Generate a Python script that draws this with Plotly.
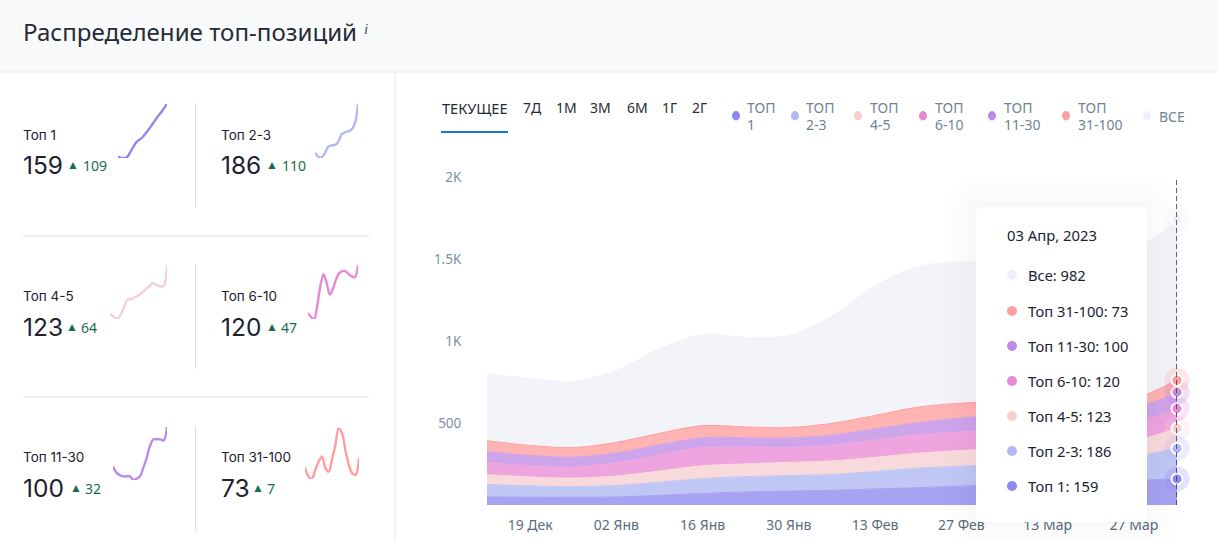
import numpy as np
import plotly.graph_objects as go

W, H = 1217, 542

weeks = ["2022-12-12", "2022-12-19", "2022-12-26", "2023-01-02", "2023-01-09", "2023-01-16",
         "2023-01-23", "2023-01-30", "2023-02-06", "2023-02-13", "2023-02-20", "2023-02-27",
         "2023-03-06", "2023-03-13", "2023-03-20", "2023-03-27", "2023-04-03"]

top_1 = [50, 47, 47, 49, 59, 70, 80, 85, 90, 98, 106, 115, 124, 133, 141, 150, 159]
top_2_3 = [76, 69, 65, 70, 80, 91, 93, 94, 96, 106, 119, 122, 124, 126, 132, 146, 186]
top_4_5 = [59, 55, 52, 58, 68, 78, 78, 81, 83, 87, 91, 95, 99, 97, 95, 95, 123]
top_6_10 = [73, 69, 67, 81, 100, 111, 102, 91, 97, 106, 112, 114, 114, 111, 109, 108, 120]
top_11_30 = [68, 63, 61, 60, 60, 60, 57, 58, 60, 67, 75, 85, 90, 90, 90, 89, 100]
top_31_100 = [66, 60, 58, 64, 70, 74, 66, 63, 72, 82, 94, 90, 78, 68, 62, 61, 73]
top_all = [410, 408, 405, 438, 516, 555, 547, 561, 656, 791, 857, 863, 861, 875, 901, 906, 982]

names = ["Топ 1", "Топ 2-3", "Топ 4-5", "Топ 6-10", "Топ 11-30", "Топ 31-100", "Все"]
series = [top_1, top_2_3, top_4_5, top_6_10, top_11_30, top_31_100, top_all]

x_tick_dates = ["2022-12-19", "2023-01-02", "2023-01-16", "2023-01-30", "2023-02-13", "2023-02-27",
                "2023-03-13", "2023-03-27"]
x_tick_text = ["19 Дек", "02 Янв", "16 Янв", "30 Янв", "13 Фев", "27 Фев", "13 Мар", "27 Мар"]
y_tick_vals = [500, 1000, 1500, 2000]
y_tick_text = ["500", "1K", "1.5K", "2K"]

tabs = ["ТЕКУЩЕЕ", "7Д", "1М", "3М", "6М", "1Г", "2Г"]
legend_top = ["ТОП", "ТОП", "ТОП", "ТОП", "ТОП", "ТОП", "ВСЕ"]
legend_bottom = ["1", "2-3", "4-5", "6-10", "11-30", "31-100", ""]

# цвета
line_colors = ["#8F88EE", "#B2B8F2", "#F6CFD2", "#E78AD6", "#BC8BE6", "#FF9E9E", "#EEF0F8"]
fill_colors = ["#A8A2F2", "#C1C7F5", "#F8D9DC", "#EEA5DF", "#CEA5EA", "#FFB3B3", "#F3F4F9"]
edge_colors = ["#A8A2F2", "#C1C7F5", "#F8D9DC", "#EEA5DF", "#CEA5EA", "#FF9E9E", "#F3F4F9"]
TEXT = "#1C2230"
GREY = "#6F8495"
GREEN = "#1B6B50"
RULE = "#DCDCE8"


def px(x):
    return x / W


def py(y):
    return 1 - y / H


fig = go.Figure()

# основной график со стеком
for name, vals, lc, fc in zip(names, series, edge_colors, fill_colors):
    fig.add_trace(go.Scatter(
        x=weeks, y=vals, name=name, stackgroup="main", mode="lines",
        line=dict(color=lc, width=1, shape="spline", smoothing=0.9),
        fillcolor=fc, hoverinfo="skip", showlegend=False,
    ))

# кружки на последней дате
cum = np.cumsum([s[-1] for s in series])
for total, lc in zip(cum, line_colors):
    fig.add_trace(go.Scatter(
        x=[weeks[-1]], y=[total], mode="markers", showlegend=False, hoverinfo="skip", cliponaxis=False,
        marker=dict(size=25, color=lc, opacity=0.25),
    ))
    fig.add_trace(go.Scatter(
        x=[weeks[-1]], y=[total], mode="markers", showlegend=False, hoverinfo="skip", cliponaxis=False,
        marker=dict(size=11, color=lc, line=dict(color="white", width=2)),
    ))

# маленькие графики в карточках
cards = [(118, 167, 104, 158), (315, 358, 104, 158),
         (110, 167, 265, 319), (308, 358, 265, 319),
         (113, 167, 427, 480), (305, 359, 428, 479)]
value_x = [(23, 73, 83), (221, 272, 282), (23, 72, 81), (221, 272, 281), (23, 76, 85), (221, 258, 267)]
card_y = [(135, 165), (135, 165), (296, 327), (296, 327), (457, 488), (457, 488)]

axes = {}
for i, (x0, x1, y0, y1) in enumerate(cards):
    n = i + 2
    vals = series[i]
    fig.add_trace(go.Scatter(
        x=weeks, y=vals, mode="lines", xaxis=f"x{n}", yaxis=f"y{n}", showlegend=False, hoverinfo="skip",
        cliponaxis=False, line=dict(color=line_colors[i], width=2.4, shape="spline", smoothing=1.0),
    ))
    axes[f"xaxis{n}"] = dict(domain=[px(x0), px(x1)], visible=False, range=[weeks[0], weeks[-1]], anchor=f"y{n}")
    axes[f"yaxis{n}"] = dict(domain=[py(y1), py(y0)], visible=False, range=[min(vals), max(vals)], anchor=f"x{n}")

shapes = [
    dict(type="rect", xref="paper", yref="paper", x0=0, x1=1, y0=py(72), y1=1, layer="below",
         fillcolor="#F9FAFC", line_width=0),
    dict(type="line", xref="paper", yref="paper", x0=0, x1=1, y0=py(72), y1=py(72), layer="below",
         line=dict(color="#F0F1F6", width=1.5)),
    dict(type="line", xref="paper", yref="paper", x0=px(395), x1=px(395), y0=py(72), y1=0, layer="below",
         line=dict(color="#F0F1F6", width=1.5)),
    dict(type="rect", xref="paper", yref="paper", x0=px(441), x1=px(508), y0=py(133), y1=py(131), layer="below",
         fillcolor="#1976D2", line_width=0),
]
for y in [236, 397]:
    shapes.append(dict(type="line", xref="paper", yref="paper", x0=px(23), x1=px(369), y0=py(y), y1=py(y),
                       layer="below", line=dict(color=RULE, width=1)))
for y0, y1 in [(103, 207), (264, 369), (426, 531)]:
    shapes.append(dict(type="line", xref="paper", yref="paper", x0=px(195.5), x1=px(195.5), y0=py(y0), y1=py(y1),
                       layer="below", line=dict(color=RULE, width=1)))

# пунктир поверх кружков
shapes.append(dict(type="line", xref="x", yref="y", x0=weeks[-1], x1=weeks[-1], y0=0, y1=2000, layer="above",
                   line=dict(color="#2F4058", width=1.6, dash="5px,3px")))


def rounded(x0, y0, x1, y1, r):
    return (f"M{px(x0 + r)},{py(y0)} L{px(x1 - r)},{py(y0)} Q{px(x1)},{py(y0)} {px(x1)},{py(y0 + r)} "
            f"L{px(x1)},{py(y1 - r)} Q{px(x1)},{py(y1)} {px(x1 - r)},{py(y1)} "
            f"L{px(x0 + r)},{py(y1)} Q{px(x0)},{py(y1)} {px(x0)},{py(y1 - r)} "
            f"L{px(x0)},{py(y0 + r)} Q{px(x0)},{py(y0)} {px(x0 + r)},{py(y0)} Z")


# тень и карточка подсказки
for grow in [32, 26, 20, 15, 10, 6, 3]:
    shapes.append(dict(type="path", xref="paper", yref="paper", layer="above", line_width=0,
                       fillcolor="rgba(0,0,0,0.005)",
                       path=rounded(976 - grow, 207 - grow, 1147 + grow, 522 + grow, 6 + grow)))
shapes.append(dict(type="path", xref="paper", yref="paper", layer="above", line_width=0, fillcolor="white",
                   path=rounded(976, 207, 1147, 522, 6)))

annotations = []


def text(x, y, s, size, color=TEXT, family="Noto Sans", anchor="left"):
    annotations.append(dict(x=px(x), y=py(y), xref="paper", yref="paper", text=s, showarrow=False, xanchor=anchor,
                            yanchor="middle", font=dict(size=size, color=color, family=family), borderpad=0,
                            borderwidth=0))


text(23, 32, "Распределение топ-позиций", 24.1, "#262B36")
text(364, 29, "<i>i</i>", 15, "#44566C", family="Liberation Serif")

# карточки
for i in range(6):
    vals = series[i]
    xv, xt, xd = value_x[i]
    yl, yv = card_y[i]
    text(xv, yl, names[i], 13.5, family="Inter")
    text(xv, yv, str(vals[-1]), 24.5, family="Inter")
    text(xt, yv - 1, "▲", 12, GREEN, anchor="center")
    text(xd, yv, str(vals[-1] - vals[0]), 14, GREEN)

# вкладки
tab_x = [474.5, 532, 566, 600, 637, 669, 699]
tab_size = [14.6, 14, 14, 14, 14, 14, 14]
for s, x, sz in zip(tabs, tab_x, tab_size):
    text(x, 108, s, sz, "#262B36", anchor="center")

# легенда
dot_x = [736, 795, 858, 923, 992, 1066, 1147]
label_x = [747, 806, 870, 935, 1004, 1078, 1159]
for a, b, xd, xl, c in zip(legend_top, legend_bottom, dot_x, label_x, line_colors):
    shapes.append(dict(type="circle", xref="paper", yref="paper", layer="above", line_width=0, fillcolor=c,
                       x0=px(xd - 4), x1=px(xd + 4), y0=py(120.5), y1=py(111)))
    if b:
        text(xl, 107, a, 14, GREY)
        text(xl, 124, b, 14, GREY)
    else:
        text(xl, 116, a, 14, GREY)

# подсказка
text(1007, 235, "03 Апр, 2023", 14.8)
tip_y = [275, 311, 346, 381, 416, 451, 486]
for y, k in zip(tip_y, range(6, -1, -1)):
    shapes.append(dict(type="circle", xref="paper", yref="paper", layer="above", line_width=0, fillcolor=line_colors[k],
                       x0=px(1007), x1=px(1017), y0=py(y + 5), y1=py(y - 5)))
    text(1028, y, f"{names[k]}: {series[k][-1]}", 14.7)

fig.update_layout(
    template="none",
    width=W, height=H, margin=dict(l=0, r=0, t=0, b=0), paper_bgcolor="white", plot_bgcolor="white",
    showlegend=False, shapes=shapes, annotations=annotations, hovermode=False,
    xaxis=dict(domain=[px(487), px(1177)], range=[weeks[0], weeks[-1]], type="date", tickmode="array",
               tickvals=x_tick_dates, ticktext=x_tick_text, showgrid=False, zeroline=False, showline=False,
               ticks="outside", ticklen=7, tickcolor="rgba(0,0,0,0)", automargin=False,
               tickfont=dict(size=14, color="#5B6B7D", family="Noto Sans")),
    yaxis=dict(domain=[py(505), py(177)], range=[0, 2000], tickmode="array", tickvals=y_tick_vals,
               ticktext=y_tick_text, showgrid=False, zeroline=False, showline=False,
               ticks="outside", ticklen=22, tickcolor="rgba(0,0,0,0)", automargin=False,
               tickfont=dict(size=13.5, color="#7C90A6", family="Noto Sans")),
    **axes,
)

fig.write_html("out.html", post_script="document.body.style.margin='0';", config={"displayModeBar": False})
